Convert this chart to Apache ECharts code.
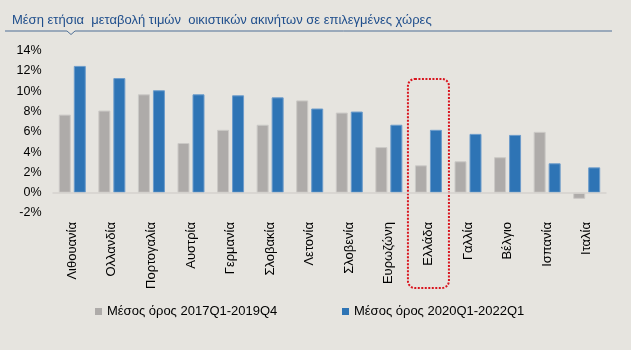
<!DOCTYPE html>
<html>
<head>
<meta charset="utf-8">
<script src="https://cdn.jsdelivr.net/npm/echarts@6/dist/echarts.min.js"></script>
<style>
  html, body { margin: 0; padding: 0; background: #e6e4df; }
  #chart { width: 631px; height: 350px; }
</style>
</head>
<body>
<div id="chart"></div>
<script>
// Countries on the category axis
const countries = ['Λιθουανία', 'Ολλανδία', 'Πορτογαλία', 'Αυστρία', 'Γερμανία', 'Σλοβακία', 'Λετονία',
  'Σλοβενία', 'Ευρωζώνη', 'Ελλάδα', 'Γαλλία', 'Βέλγιο', 'Ισπανία', 'Ιταλία'];

// Average annual change in residential property prices (%)
const avg2017_2019 = [7.7, 8.1, 9.7, 4.9, 6.2, 6.7, 9.1, 7.9, 4.5, 2.7, 3.1, 3.5, 6.0, -0.6];
const avg2020_2022 = [12.5, 11.3, 10.1, 9.7, 9.6, 9.4, 8.3, 8.0, 6.7, 6.2, 5.8, 5.7, 2.9, 2.5];

const seriesNames = ['Μέσος όρος 2017Q1-2019Q4', 'Μέσος όρος 2020Q1-2022Q1'];
const highlighted = 'Ελλάδα';

const FONT = '"Liberation Sans", Arial, sans-serif';

const chart = echarts.init(document.getElementById('chart'), null, { renderer: 'canvas' });

const legendText = { fontFamily: FONT, fontSize: 13, color: '#000' };

const option = {
  backgroundColor: '#e6e4df',
  animation: false,
  textStyle: { fontFamily: FONT },
  title: {
    text: 'Μέση ετήσια  μεταβολή τιμών  οικιστικών ακινήτων σε επιλεγμένες χώρες',
    left: 7,
    top: 9,
    textStyle: { fontFamily: FONT, fontSize: 13, fontWeight: 'normal', color: '#1f4e8c' }
  },
  legend: [
    {
      data: [seriesNames[0]], left: 90, top: 300, icon: 'rect', itemWidth: 7, itemHeight: 7, itemGap: 4,
      itemStyle: { borderWidth: 0 }, textStyle: legendText
    },
    {
      data: [seriesNames[1]], left: 337, top: 300, icon: 'rect', itemWidth: 7, itemHeight: 7, itemGap: 4,
      itemStyle: { borderWidth: 0 }, textStyle: legendText
    }
  ],
  grid: { left: 52.5, right: 24.5, top: 50.7, bottom: 137, containLabel: false },
  xAxis: {
    type: 'category',
    data: countries,
    axisLine: { show: false, onZero: false },
    axisTick: { show: false },
    axisLabel: { rotate: 90, margin: 9, fontSize: 13, color: '#000', fontFamily: FONT, interval: 0 }
  },
  yAxis: {
    type: 'value',
    min: -2,
    max: 14,
    interval: 2,
    axisLine: { show: false },
    axisTick: { show: false },
    splitLine: { show: false },
    axisLabel: { formatter: '{value}%', fontSize: 12.5, color: '#000', fontFamily: FONT, margin: 11 }
  },
  series: [
    {
      name: seriesNames[0],
      type: 'bar',
      data: avg2017_2019,
      barWidth: 12,
      barGap: '25%',
      itemStyle: { color: '#aeaba9', borderColor: '#cbc9c6', borderWidth: 1 },
      markLine: {
        silent: true,
        symbol: 'none',
        label: { show: false },
        lineStyle: { color: '#d4d2ce', width: 1.5, type: 'solid' },
        data: [{ yAxis: 0 }]
      }
    },
    {
      name: seriesNames[1],
      type: 'bar',
      data: avg2020_2022,
      barWidth: 12,
      itemStyle: { color: '#2e74b5', borderColor: '#6d9ccb', borderWidth: 1 }
    }
  ]
};

chart.setOption(option);

// Title rule with small notch, and the dotted frame around the highlighted country
const cx = chart.convertToPixel({ xAxisIndex: 0 }, highlighted);
chart.setOption({
  graphic: [
    {
      type: 'polyline',
      shape: { points: [[5, 31], [67, 31], [71, 34.5], [75, 31], [612, 31]] },
      style: { stroke: '#4f6f96', lineWidth: 1, fill: null }
    },
    {
      type: 'rect',
      shape: { x: cx - 20.5, y: 79, width: 41, height: 209, r: 7 },
      style: { fill: null, stroke: '#d9141e', lineWidth: 2, lineDash: [2, 1.5] }
    }
  ]
});
</script>
</body>
</html>
